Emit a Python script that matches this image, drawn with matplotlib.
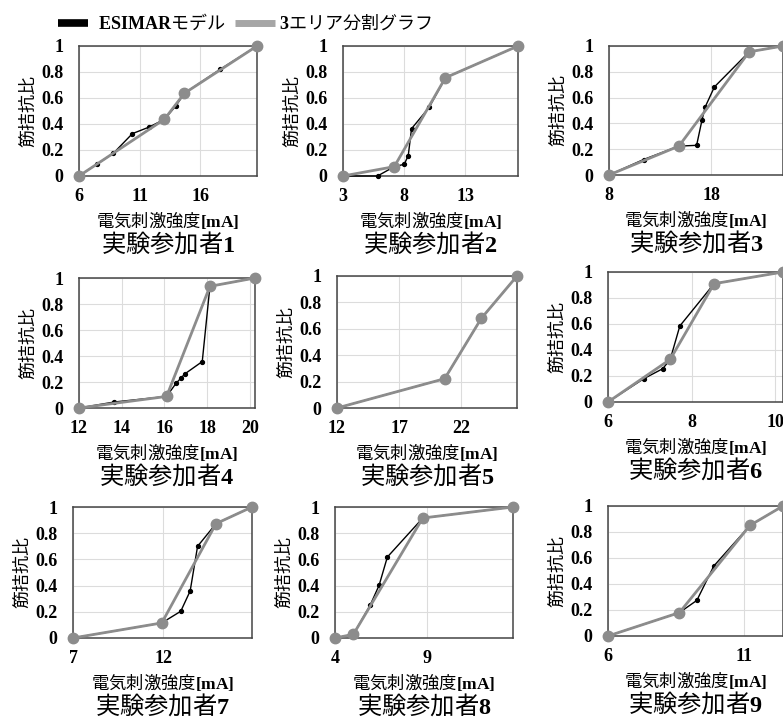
import matplotlib
matplotlib.use('Agg')
import matplotlib.pyplot as plt
from matplotlib.lines import Line2D
from matplotlib.ticker import FixedLocator

plt.rcParams['font.family'] = ['Noto Sans CJK JP', 'DejaVu Sans']
plt.rcParams['mathtext.fontset'] = 'custom'
plt.rcParams['mathtext.rm'] = 'Liberation Serif'
plt.rcParams['mathtext.bf'] = 'Liberation Serif:bold'

# ---------------- data ----------------
participants = ['1', '2', '3', '4', '5', '6', '7', '8', '9']

esimar_x_1 = [6, 7.46, 8.84, 10.41, 11.81, 13.05, 13.99, 14.7, 17.65, 20.7]
esimar_y_1 = [0, 0.09, 0.175, 0.326, 0.377, 0.436, 0.538, 0.636, 0.82, 1.0]
area_x_1 = [6, 13.05, 14.7, 20.7]
area_y_1 = [0, 0.436, 0.636, 1.0]

esimar_x_2 = [3, 5.82, 7.19, 8.0, 8.33, 8.6, 10.04, 11.37, 17.3]
esimar_y_2 = [0, 0, 0.072, 0.09, 0.156, 0.364, 0.528, 0.756, 1.0]
area_x_2 = [3, 7.19, 11.37, 17.3]
area_y_2 = [0, 0.072, 0.756, 1.0]

esimar_x_3 = [8, 11.38, 14.83, 16.56, 17.08, 17.4, 18.3, 21.7, 25.0]
esimar_y_3 = [0, 0.12, 0.224, 0.23, 0.424, 0.528, 0.683, 0.955, 1.0]
area_x_3 = [8, 14.83, 21.7, 25.0]
area_y_3 = [0, 0.224, 0.955, 1.0]

esimar_x_4 = [12, 13.65, 16.1, 16.54, 16.77, 16.96, 17.77, 18.13, 20.24]
esimar_y_4 = [0, 0.046, 0.089, 0.189, 0.23, 0.263, 0.357, 0.936, 1.0]
area_x_4 = [12, 16.1, 18.13, 20.24]
area_y_4 = [0, 0.089, 0.936, 1.0]

esimar_x_5 = [12, 20.65, 23.6, 26.46]
esimar_y_5 = [0, 0.222, 0.68, 1.0]
area_x_5 = [12, 20.65, 23.6, 26.46]
area_y_5 = [0, 0.222, 0.68, 1.0]

esimar_x_6 = [6, 6.86, 7.31, 7.49, 7.72, 8.54, 10.19]
esimar_y_6 = [0, 0.18, 0.256, 0.328, 0.585, 0.91, 1.0]
area_x_6 = [6, 7.49, 8.54, 10.19]
area_y_6 = [0, 0.328, 0.91, 1.0]

esimar_x_7 = [7, 11.91, 12.96, 13.48, 13.89, 14.91, 16.9]
esimar_y_7 = [0, 0.115, 0.204, 0.359, 0.70, 0.873, 1.0]
area_x_7 = [7, 11.91, 14.91, 16.9]
area_y_7 = [0, 0.115, 0.873, 1.0]

esimar_x_8 = [4, 5.0, 5.91, 6.4, 6.85, 8.78, 13.69]
esimar_y_8 = [0, 0.028, 0.249, 0.402, 0.618, 0.916, 1.0]
area_x_8 = [4, 5.0, 8.78, 13.69]
area_y_8 = [0, 0.028, 0.916, 1.0]

esimar_x_9 = [6, 8.62, 9.26, 9.88, 11.21, 12.42]
esimar_y_9 = [0, 0.18, 0.274, 0.538, 0.851, 1.0]
area_x_9 = [6, 8.62, 11.21, 12.42]
area_y_9 = [0, 0.18, 0.851, 1.0]

x_tick_steps = [5, 5, 10, 2, 5, 2, 5, 5, 5]
y_ticks = [0, 0.2, 0.4, 0.6, 0.8, 1]
y_tick_labels = ['0', '0.2', '0.4', '0.6', '0.8', '1']

esimar_x = [esimar_x_1, esimar_x_2, esimar_x_3, esimar_x_4, esimar_x_5,
            esimar_x_6, esimar_x_7, esimar_x_8, esimar_x_9]
esimar_y = [esimar_y_1, esimar_y_2, esimar_y_3, esimar_y_4, esimar_y_5,
            esimar_y_6, esimar_y_7, esimar_y_8, esimar_y_9]
area_x = [area_x_1, area_x_2, area_x_3, area_x_4, area_x_5,
          area_x_6, area_x_7, area_x_8, area_x_9]
area_y = [area_y_1, area_y_2, area_y_3, area_y_4, area_y_5,
          area_y_6, area_y_7, area_y_8, area_y_9]

legend_esimar = r'$\mathbf{ESIMAR}$モデル'
legend_area = r'$\mathbf{3}$エリア分割グラフ'
xlabel_text = r'電気刺激強度$\mathbf{[mA]}$'
ylabel_text = '筋拮抗比'
title_prefix = '実験参加者'

# ---------------- layout ----------------
W, H = 783, 722
fig = plt.figure(figsize=(W / 100, H / 100), dpi=100)

# axes boxes in pixels: left, top, right, bottom
boxes = [
    (79, 46, 257, 176), (343, 46, 518, 176), (609, 46, 783, 175),
    (79, 278, 255, 408), (337, 276, 517, 408), (608, 272, 783, 402),
    (73, 507, 252, 638), (335, 507, 513, 638), (608, 506, 783, 636),
]

GRAY = '#8c8c8c'
SPINE = '#454545'
GRID = '#dcdcdc'
tick_font = dict(family='Liberation Serif', weight='bold', size=13)

for i in range(9):
    l, t, r, b = boxes[i]
    ax = fig.add_axes([l / W, 1 - b / H, (r - l) / W, (b - t) / H])
    xs_e, ys_e = esimar_x[i], esimar_y[i]
    xs_a, ys_a = area_x[i], area_y[i]
    ax.plot(xs_e, ys_e, color='black', lw=1.0, marker='o', ms=2.8,
            zorder=3, clip_on=False)
    ax.plot(xs_a, ys_a, color=GRAY, lw=2.0, marker='o', ms=7.5,
            zorder=4, clip_on=False)
    x0, x1 = xs_a[0], xs_a[-1]
    ax.set_xlim(x0, x1)
    ax.set_ylim(0, 1)
    step = x_tick_steps[i]
    ticks = []
    v = x0
    while v <= x1 + 1e-9:
        ticks.append(v)
        v += step
    ax.xaxis.set_major_locator(FixedLocator(ticks))
    ax.set_xticklabels([f'{v:g}' for v in ticks], fontdict=tick_font)
    ax.set_yticks(y_ticks)
    ax.set_yticklabels(y_tick_labels, fontdict=tick_font)
    ax.tick_params(axis='both', length=0, colors='black')
    ax.tick_params(axis='y', pad=11)
    ax.tick_params(axis='x', pad=8.5)
    ax.grid(True, color=GRID, lw=0.8, zorder=0)
    ax.set_axisbelow(True)
    for s in ax.spines.values():
        s.set_color(SPINE)
        s.set_linewidth(1.1)
        s.set_zorder(2)
    cx = (l + r) / 2
    fig.text((l - 51) / W, 1 - ((t + b) / 2) / H, ylabel_text, rotation=90,
             ha='center', va='center', fontsize=13)
    fig.text(cx / W, 1 - (b + 44) / H, xlabel_text, ha='center', va='center',
             fontsize=12.5)
    fig.text(cx / W, 1 - (b + 68) / H,
             title_prefix + r'$\mathbf{' + participants[i] + '}$',
             ha='center', va='center', fontsize=17.5)

# ---------------- legend ----------------
ly = 1 - 22.5 / H
fig.add_artist(Line2D([58 / W, 88 / W], [ly, ly], color='black', lw=5.5,
                      solid_capstyle='butt', transform=fig.transFigure))
fig.text(98 / W, ly, legend_esimar, ha='left', va='center', fontsize=13)
fig.add_artist(Line2D([235 / W, 275 / W], [ly, ly], color='#a6a6a6', lw=5,
                      solid_capstyle='butt', transform=fig.transFigure))
fig.text(279 / W, ly, legend_area, ha='left', va='center', fontsize=13)

fig.savefig('out.png', dpi=100)
